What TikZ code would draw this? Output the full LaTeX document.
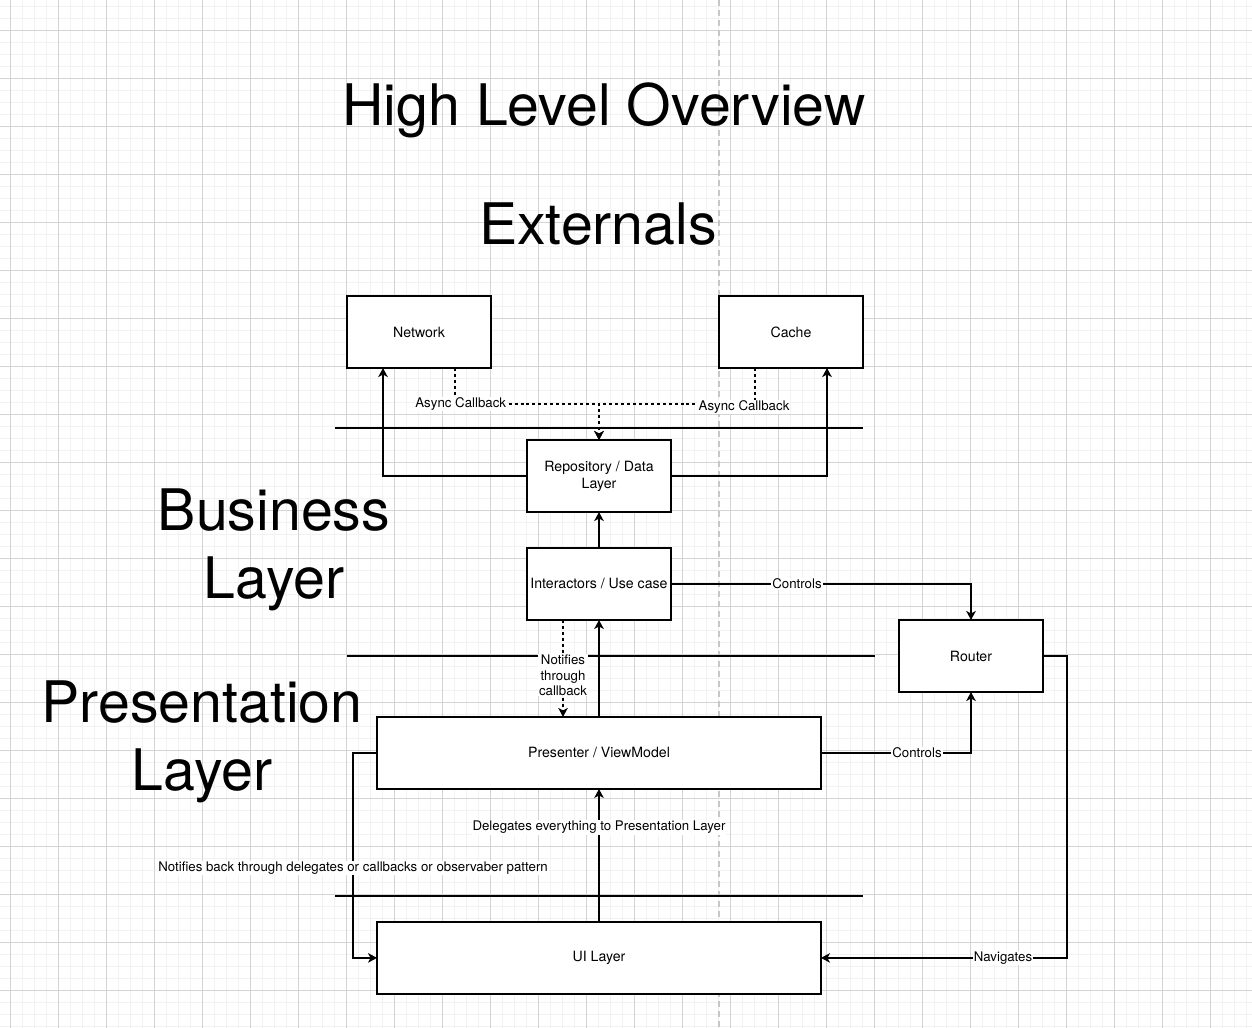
\documentclass[tikz,border=0pt]{standalone}
\usepackage{fontspec}
\setmainfont{TeX Gyre Heros}
\usetikzlibrary{arrows.meta, positioning}

\begin{document}
\begin{tikzpicture}[
    x=0.02cm, y=-0.02cm,
    >={Stealth[length=1.8mm, width=1.9mm, inset=0.5mm]},
    every node/.style={font=\fontsize{7.55}{8.6}\selectfont},
    minor/.style={line width=0.5pt, black!5},
    major/.style={line width=0.5pt, black!17},
    brk/.style ={line width=0.7pt, black!22, dash pattern=on 3.4pt off 2.3pt},
    head/.style={font=\fontsize{32.6}{39}\selectfont, align=center, inner sep=0pt},
    box/.style ={draw, fill=white, line width=1.1pt, align=center, inner sep=0pt,
                 outer sep=0pt, minimum width=28.8mm, minimum height=14.4mm,
                 font=\fontsize{8.05}{9.6}\selectfont},
    wide/.style={box, minimum width=88.8mm},
    sep/.style ={line width=1pt},
    flow/.style={->, line width=1pt},
    cb/.style  ={->, line width=1pt, dash pattern=on 1.7pt off 1.7pt},
    lbl/.style ={fill=white, inner sep=0.5pt, align=center},
]
\useasboundingbox (0,0) rectangle (1252,1028);
\fill[white] (0,0) rectangle (1252,1028);
\foreach \i in {-2,10,...,1250} \draw[minor] (\i,0) -- (\i,1028);
\foreach \i in {6,18,...,1026} \draw[minor] (0,\i) -- (1252,\i);
\foreach \i in {10,58,...,1250} \draw[major] (\i,0) -- (\i,1028);
\foreach \i in {30,78,...,1026} \draw[major] (0,\i) -- (1252,\i);
\draw[brk] (719,0) -- (719,1028);

\node[head] (title) at (604,110) {High Level Overview};
\node[head] (ext)   at (598,224) {Externals};
\node[head] (biz)   at (274,550) {Business\\Layer};
\node[head] (plyr)  at (202,742) {Presentation\\Layer};

\draw[sep] (335,428) -- (863,428);
\draw[sep] (347,656) -- (875,656);
\draw[sep] (335,896) -- (863,896);

\node[box] (net)   at (419,332) {Network};
\node[box] (cache) at (791,332) {Cache};
\node[box] (repo)  at (599,476) {Repository / Data\\Layer};
\node[box, below=7.2mm of repo]  (inter) {Interactors / Use case};
\node[wide, below=19.4mm of inter] (pres) {Presenter / ViewModel};
\node[wide, below=26.6mm of pres]  (ui)   {UI Layer};
\node[box] (router) at (971,656) {Router};

\coordinate[above=7.2mm of repo.north] (jn);
\coordinate[right=7.2mm of inter.south west] (nt);

\draw[flow] (repo.west) -| ([xshift=7.2mm]net.south west);
\draw[flow] (repo.east) -| ([xshift=-7.2mm]cache.south east);
\draw[cb] ([xshift=-7.2mm]net.south east) |- node[lbl,pos=0.52]{Async Callback} (jn) -- (repo.north);
\draw[cb] ([xshift=7.2mm]cache.south west) |- node[lbl,pos=0.535,yshift=-0.6mm]{Async Callback} (jn) -- (repo.north);
\draw[flow] (inter.north) -- (repo.south);
\draw[flow] (inter.east) -| node[lbl,pos=0.21]{Controls} (router.north);
\draw[cb] (nt) -- node[lbl,pos=0.57]{Notifies\\through\\callback} (nt |- pres.north);
\draw[flow] (pres.north) -- (inter.south);
\draw[flow] (pres.east) -| node[lbl,pos=0.32]{Controls} (router.south);
\draw[flow] (ui.north) -- node[lbl,pos=0.71]{Delegates everything to Presentation Layer} (pres.south);
\draw[flow] (pres.west) -- ++(-4.8mm,0) |- node[lbl,pos=0.28]{Notifies back through delegates or callbacks or observaber pattern} (ui.west);
\draw[flow] (router.east) -- ++(4.8mm,0) |- node[lbl,pos=0.63]{Navigates} (ui.east);
\end{tikzpicture}
\end{document}
